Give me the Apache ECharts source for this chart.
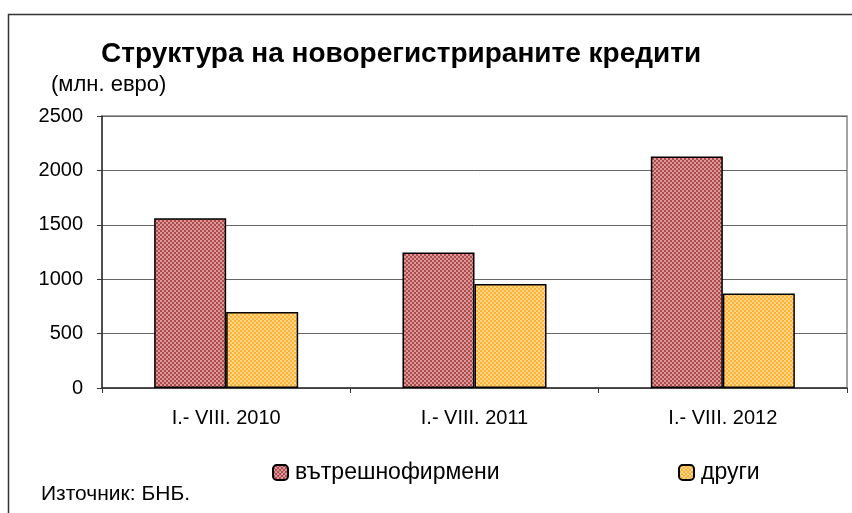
<!DOCTYPE html>
<html>
<head>
<meta charset="utf-8">
<script src="https://cdn.jsdelivr.net/npm/echarts@6/dist/echarts.min.js"></script>
<style>
  html, body { margin: 0; padding: 0; background: #fff; }
  #chart { width: 852px; height: 513px; }
</style>
</head>
<body>
<div id="chart"></div>
<script>
  // данни
  var categories = ['I.- VIII. 2010', 'I.- VIII. 2011', 'I.- VIII. 2012'];
  var seriesNames = ['вътрешнофирмени', 'други'];
  var intraCompany = [1560, 1245, 2128];
  var others = [698, 955, 868];
  var yTicks = [0, 500, 1000, 1500, 2000, 2500];

  // шахматна шарка за стълбовете (клетки 2x2 px)
  function makePattern(dark, light) {
    var c = document.createElement('canvas');
    c.width = 4; c.height = 4;
    var ctx = c.getContext('2d');
    ctx.fillStyle = dark; ctx.fillRect(0, 0, 4, 4);
    ctx.fillStyle = light;
    ctx.fillRect(0, 0, 2, 2);
    ctx.fillRect(2, 2, 2, 2);
    return c;
  }
  var redFill = { image: makePattern('#b04a4a', '#d89a9a'), repeat: 'repeat' };
  var orangeFill = { image: makePattern('#ffb030', '#ffd890'), repeat: 'repeat' };

  var font = 'Liberation Sans, Arial, sans-serif';
  var chart = echarts.init(document.getElementById('chart'));
  chart.setOption({
    animation: false,
    textStyle: { fontFamily: font },
    title: [
      {
        text: 'Структура на новорегистрираните кредити',
        left: 96, top: 35,
        textStyle: { fontSize: 28, fontWeight: 'bold', color: '#000', fontFamily: font }
      },
      {
        text: '(млн. евро)',
        left: 46, top: 69,
        textStyle: { fontSize: 22, fontWeight: 'normal', color: '#000', fontFamily: font }
      },
      {
        text: 'Източник: БНБ.',
        left: 36, top: 479,
        textStyle: { fontSize: 21, fontWeight: 'normal', color: '#000', fontFamily: font }
      }
    ],
    graphic: [
      {
        type: 'rect',
        shape: { x: 8.5, y: 14.5, width: 860, height: 520 },
        style: { fill: null, stroke: '#333', lineWidth: 1.5 },
        silent: true
      }
    ],
    legend: [
      {
        data: [seriesNames[0]],
        left: 267, top: 456,
        itemWidth: 15, itemHeight: 15, itemGap: 0,
        textStyle: { fontSize: 23, color: '#000', fontFamily: font, padding: [0, 0, 0, 2] }
      },
      {
        data: [seriesNames[1]],
        left: 673, top: 456,
        itemWidth: 15, itemHeight: 15, itemGap: 0,
        textStyle: { fontSize: 23, color: '#000', fontFamily: font, padding: [0, 0, 0, 2] }
      }
    ],
    grid: {
      left: 102, right: 5, top: 116, bottom: 125,
      show: true, borderColor: '#888', borderWidth: 1.5,
      containLabel: false
    },
    xAxis: {
      type: 'category',
      data: categories,
      axisLine: { lineStyle: { color: '#333', width: 1.5 } },
      axisTick: { show: true, length: 5, lineStyle: { color: '#333' } },
      axisLabel: { fontSize: 20, color: '#000', margin: 20, fontFamily: font }
    },
    yAxis: {
      type: 'value',
      min: yTicks[0], max: yTicks[yTicks.length - 1], interval: 500,
      axisLine: { show: true, lineStyle: { color: '#333', width: 1.5 } },
      axisTick: { show: true, length: 5, lineStyle: { color: '#333' } },
      axisLabel: {
        fontSize: 20, color: '#000', margin: 19, fontFamily: font,
        formatter: function (v) { return String(v); }
      },
      splitLine: { lineStyle: { color: '#666', width: 1 } }
    },
    series: [
      {
        name: seriesNames[0], type: 'bar', data: intraCompany,
        barGap: 0, barCategoryGap: '42%',
        itemStyle: { color: redFill, borderColor: '#000', borderWidth: 1.5 }
      },
      {
        name: seriesNames[1], type: 'bar', data: others,
        barGap: 0, barCategoryGap: '42%',
        itemStyle: { color: orangeFill, borderColor: '#000', borderWidth: 1.5 }
      }
    ]
  });
</script>
</body>
</html>
